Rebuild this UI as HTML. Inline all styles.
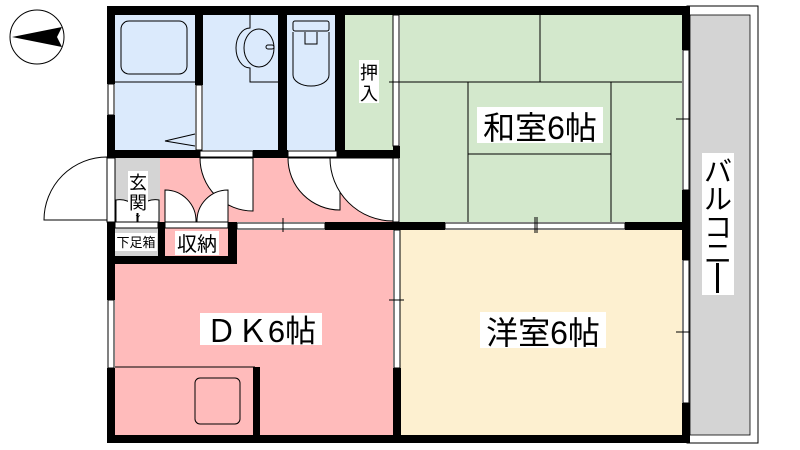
<!DOCTYPE html>
<html><head><meta charset="utf-8"><style>
html,body{margin:0;padding:0;background:#fff;width:800px;height:450px;overflow:hidden}
svg{display:block}
text{font-family:"Liberation Sans","Noto Sans CJK JP",sans-serif;fill:#000}
</style></head><body>
<svg width="800" height="450" viewBox="0 0 800 450" xmlns="http://www.w3.org/2000/svg">
<circle cx="37" cy="37" r="27" fill="#fff" stroke="#000" stroke-width="1"/>
<path d="M12 37 L62 27 L57 37 L62 47 Z" fill="#000"/>
<rect x="687" y="6" width="71" height="437" fill="#fff" stroke="#000" stroke-width="1"/>
<rect x="690" y="15" width="60" height="420" fill="#d4d4d4" stroke="#000" stroke-width="0.8"/>
<rect x="115" y="15" width="80" height="135" fill="#dbeafc"/>
<rect x="203" y="15" width="75" height="135" fill="#dbeafc"/>
<rect x="287" y="15" width="48" height="135" fill="#dbeafc"/>
<rect x="345" y="15" width="48" height="135" fill="#d3e8cc"/>
<rect x="400" y="15" width="282" height="207" fill="#d3e8cc"/>
<rect x="400" y="230" width="282" height="205" fill="#fdf0d0"/>
<rect x="115" y="230" width="278" height="205" fill="#ffbbbb"/>
<rect x="160" y="158" width="233" height="64" fill="#ffbbbb"/>
<rect x="115" y="158" width="45" height="64" fill="#d4d4d4"/>
<rect x="115" y="228" width="43" height="28" fill="#d4d4d4"/>
<rect x="165" y="228" width="63" height="28" fill="#ffbbbb"/>
<g stroke="#000" stroke-width="1" fill="none">
<line x1="400" y1="82" x2="682" y2="82"/>
<line x1="540" y1="15" x2="540" y2="82"/>
<line x1="468" y1="82" x2="468" y2="222"/>
<line x1="611" y1="82" x2="611" y2="222"/>
<line x1="468" y1="154" x2="611" y2="154"/>
</g>
<g stroke="#000" stroke-width="1" fill="none">
<rect x="121" y="21" width="66" height="53" rx="8"/>
<line x1="115" y1="82" x2="195" y2="82"/>
<path d="M195 134 L165 141 L195 146"/>
<path d="M250 15 V28 A14 20 0 0 0 250 68 V82 H278"/>
<ellipse cx="259" cy="48" rx="15" ry="19"/>
<rect x="266" y="45" width="8" height="4" rx="2"/>
<rect x="293" y="21" width="36" height="10" rx="2"/>
<path d="M293 32 V75 A18 11 0 0 0 329 75 V32"/>
<path d="M305 32 V44 H317 V32"/>
<rect x="195" y="378" width="45" height="46" rx="5"/>
<line x1="115" y1="367" x2="255" y2="367"/>
</g>
<g stroke="#000" stroke-width="1" fill="#fff">
<path d="M253 158 L200 158 A53 53 0 0 0 253 211 Z"/>
<path d="M340 158 L288 158 A52 52 0 0 0 340 210 Z"/>
<path d="M393 158 L330 158 A63 63 0 0 0 393 221 Z"/>
<path d="M107 220 L44 220 A63 63 0 0 1 107 157 Z"/>
<path d="M165 222 L165 190 A31 31 0 0 1 196 222 Z"/>
<path d="M228 222 L228 190 A31 31 0 0 0 197 222 Z"/>
<path d="M116 222 L116 200 A22 22 0 0 1 137 208 L137 222 Z"/>
<path d="M159 222 L159 200 A22 22 0 0 0 138 208 L138 222 Z"/>
</g>
<g fill="#000">
<rect x="107" y="6" width="583" height="9"/>
<rect x="107" y="6" width="8" height="78"/>
<rect x="107" y="115" width="8" height="43"/>
<rect x="107" y="222" width="8" height="78"/>
<rect x="107" y="368" width="8" height="75"/>
<rect x="107" y="435" width="583" height="8"/>
<rect x="682" y="6" width="8" height="44"/>
<rect x="682" y="190" width="8" height="70"/>
<rect x="682" y="403" width="8" height="40"/>
<rect x="195" y="15" width="8" height="70"/>
<rect x="278" y="15" width="9" height="143"/>
<rect x="335" y="15" width="10" height="143"/>
<rect x="107" y="150" width="93" height="8"/>
<rect x="253" y="150" width="35" height="8"/>
<rect x="337" y="150" width="63" height="8"/>
<rect x="393" y="146" width="7" height="12"/>
<rect x="107" y="256" width="130" height="8"/>
<rect x="158" y="222" width="7" height="42"/>
<rect x="228" y="222" width="9" height="42"/>
<rect x="325" y="222" width="75" height="8"/>
<rect x="392" y="222" width="53" height="8"/>
<rect x="625" y="222" width="65" height="8"/>
<rect x="393" y="368" width="8" height="75"/>
<rect x="253" y="367" width="7" height="70"/>
</g>
<g stroke="#000" stroke-width="1" fill="#fff">
<rect x="108" y="84" width="6" height="31"/>
<rect x="108" y="300" width="6" height="68"/>
<rect x="683" y="50" width="6" height="140"/>
<rect x="683" y="260" width="6" height="143"/>
<rect x="196" y="85" width="6" height="65"/>
<rect x="393" y="15" width="6" height="131"/>
<rect x="393" y="158" width="6" height="64"/>
<rect x="394" y="230" width="6" height="138"/>
<rect x="200" y="151" width="53" height="6"/>
<rect x="288" y="151" width="49" height="6"/>
<rect x="237" y="223" width="88" height="6"/>
<rect x="445" y="223" width="180" height="6"/>
<rect x="115" y="222" width="43" height="6"/>
<rect x="165" y="222" width="63" height="6"/>
<rect x="107" y="158" width="8" height="64"/>
</g>
<g stroke="#000" stroke-width="1">
<line x1="283" y1="218" x2="283" y2="232"/>
<line x1="535" y1="217" x2="535" y2="233"/><line x1="537" y1="217" x2="537" y2="233"/>
<line x1="389" y1="82" x2="404" y2="82"/>
<line x1="389" y1="300" x2="404" y2="300"/>
<line x1="676" y1="119" x2="690" y2="119"/>
<line x1="676" y1="332" x2="690" y2="332"/>
</g>
<rect x="477" y="107" width="126" height="36" fill="#fff"/>
<text x="540" y="139" font-size="32" text-anchor="middle">和室6帖</text>
<rect x="480" y="312" width="126" height="36" fill="#fff"/>
<text x="543" y="344" font-size="32" text-anchor="middle">洋室6帖</text>
<rect x="200" y="313" width="122" height="32" fill="#fff"/>
<text x="261" y="342" font-size="31" text-anchor="middle">ＤＫ6帖</text>
<rect x="359" y="60" width="20" height="43" fill="#fff"/>
<text x="369" y="79" font-size="18" text-anchor="middle">押</text>
<text x="369" y="100" font-size="18" text-anchor="middle">入</text>
<rect x="128" y="171" width="20" height="42" fill="#fff"/>
<text x="138" y="189" font-size="18" text-anchor="middle">玄</text>
<text x="138" y="209" font-size="18" text-anchor="middle">関</text>
<text x="138" y="220" font-size="7" text-anchor="middle">Y</text>
<rect x="115" y="233" width="42" height="18" fill="#fff"/>
<text x="136" y="247" font-size="13" text-anchor="middle">下足箱</text>
<rect x="175" y="231" width="44" height="24" fill="#fff"/>
<text x="197" y="251" font-size="20" text-anchor="middle">収納</text>
<rect x="702" y="153" width="32" height="142" fill="#fff"/>
<text x="718" y="181" font-size="28" text-anchor="middle">バ</text>
<text x="718" y="209" font-size="28" text-anchor="middle">ル</text>
<text x="718" y="237" font-size="28" text-anchor="middle">コ</text>
<text x="718" y="263" font-size="28" text-anchor="middle">ニ</text>
<rect x="716" y="263" width="3" height="30" fill="#000"/>
</svg>
</body></html>
